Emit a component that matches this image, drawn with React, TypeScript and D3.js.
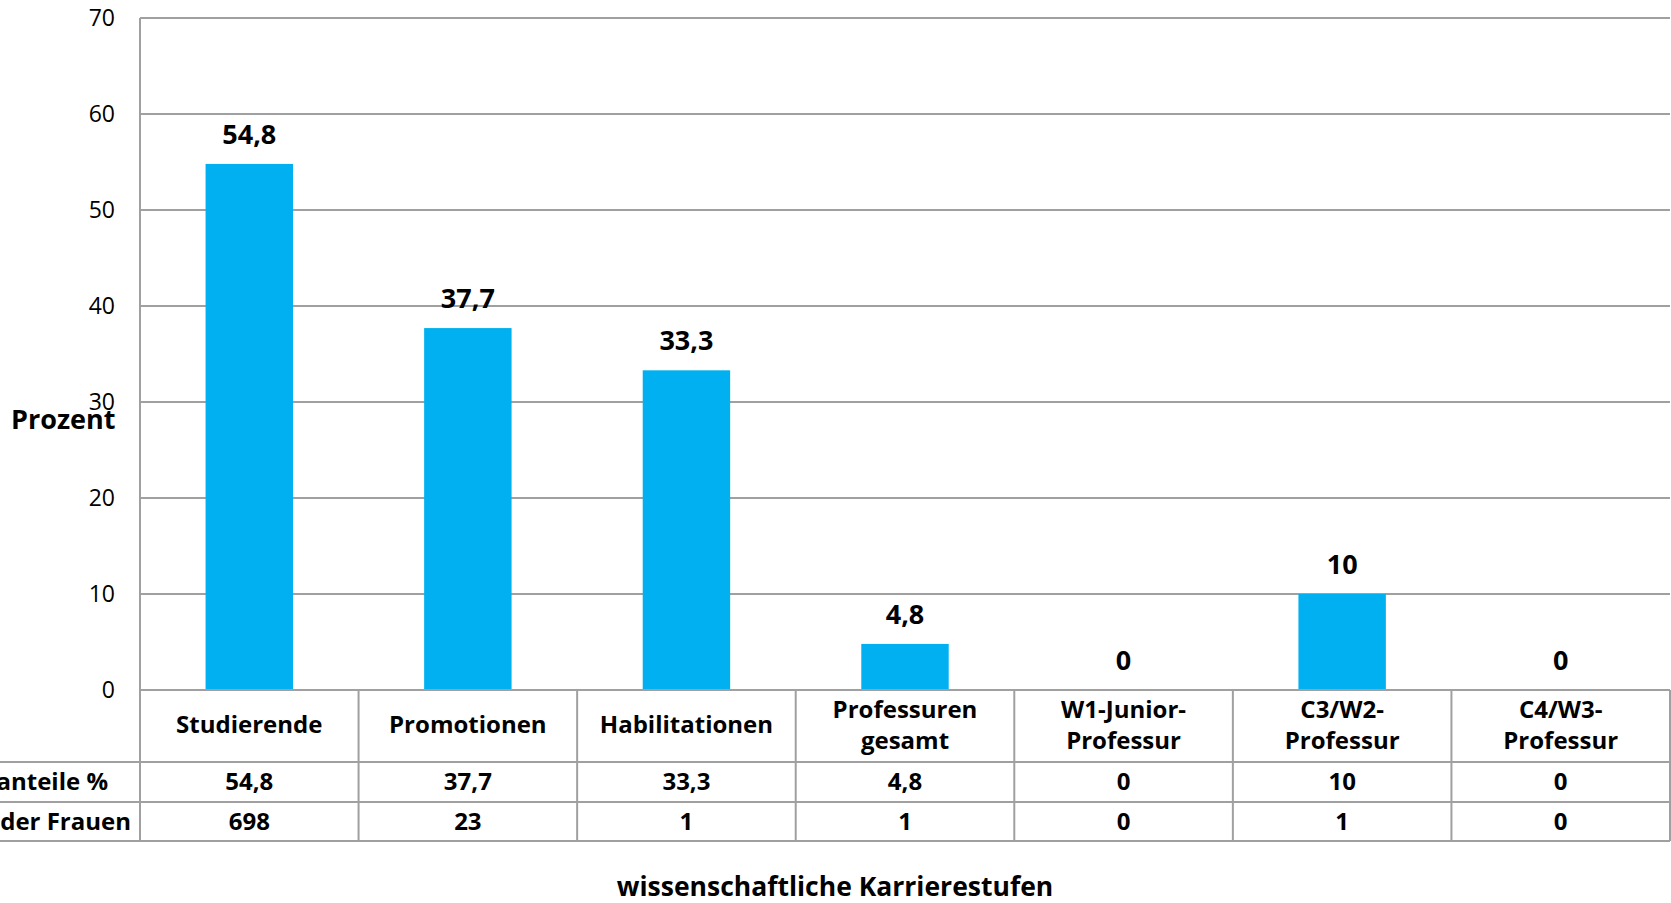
import React from "react";
import * as d3 from "d3";

const categories = [
  "Studierende",
  "Promotionen",
  "Habilitationen",
  "Professuren\ngesamt",
  "W1-Junior-\nProfessur",
  "C3/W2-\nProfessur",
  "C4/W3-\nProfessur",
];
const frauenanteile = [54.8, 37.7, 33.3, 4.8, 0, 10, 0];
const anzahlFrauen = [698, 23, 1, 1, 0, 1, 0];
const yTicks = [0, 10, 20, 30, 40, 50, 60, 70];
const rowLabels = ["Frauenanteile %", "Anzahl der Frauen"];

const W = 1671;
const H = 903;
const FONT = "'Open Sans', 'Noto Sans', sans-serif";
const fmt = (v: number) => String(v).replace(".", ",");

export default function App() {
  const left = 140;
  const right = 1670;
  const top = 18;
  const bottom = 690;
  const y = d3.scaleLinear().domain([0, 70]).range([bottom, top]);
  const x = d3.scaleBand<string>().domain(categories).range([left, right]).padding(0);
  const bw = x.bandwidth();
  const row1Bottom = 762;
  const row2Bottom = 802;
  const row3Bottom = 841;
  const grid = "#a0a0a0";

  return (
    <svg
      width={W}
      height={H}
      style={{ position: "absolute", left: 0, top: 0, background: "#fff" }}
      fontFamily={FONT}
    >
      <rect x={0} y={0} width={W} height={H} fill="#fff" />
      {/* gridlines */}
      {yTicks.map((t) => (
        <line key={t} x1={left} x2={right} y1={y(t)} y2={y(t)} stroke={grid} strokeWidth={2} />
      ))}
      {/* tick labels */}
      {yTicks.map((t) => (
        <text key={"t" + t} x={115} y={y(t)} dy="0.36em" textAnchor="end" fontSize={23} fill="#000">
          {t}
        </text>
      ))}
      {/* bars */}
      {categories.map((c, i) => (
        <rect
          key={"b" + i}
          x={(x(c) as number) + bw * 0.3}
          width={bw * 0.4}
          y={y(frauenanteile[i])}
          height={y(0) - y(frauenanteile[i])}
          fill="#00B0F0"
        />
      ))}
      {/* value labels */}
      {categories.map((c, i) => (
        <text
          key={"v" + i}
          x={(x(c) as number) + bw / 2}
          y={y(frauenanteile[i]) - 20}
          textAnchor="middle"
          fontSize={27}
          fontWeight="bold"
          fill="#000"
        >
          {fmt(frauenanteile[i])}
        </text>
      ))}
      {/* axis vertical line */}
      <line x1={left} x2={left} y1={top} y2={row3Bottom} stroke={grid} strokeWidth={2} />
      {/* table horizontal lines */}
      <line x1={left} x2={right} y1={bottom} y2={bottom} stroke={grid} strokeWidth={2} />
      <line x1={0} x2={right} y1={row1Bottom} y2={row1Bottom} stroke={grid} strokeWidth={2} />
      <line x1={0} x2={right} y1={row2Bottom} y2={row2Bottom} stroke={grid} strokeWidth={2} />
      <line x1={0} x2={right} y1={row3Bottom} y2={row3Bottom} stroke={grid} strokeWidth={2} />
      {/* table vertical lines */}
      {categories.map((c, i) => (
        <line
          key={"vl" + i}
          x1={(x(c) as number) + bw}
          x2={(x(c) as number) + bw}
          y1={bottom}
          y2={row3Bottom}
          stroke={grid}
          strokeWidth={2}
        />
      ))}
      {/* category labels */}
      {categories.map((c, i) => {
        const lines = c.split("\n");
        const cx = (x(c) as number) + bw / 2;
        const baselines = lines.length === 1 ? [733] : [718, 749];
        return (
          <text key={"c" + i} textAnchor="middle" fontSize={24} fontWeight="bold" fill="#000">
            {lines.map((l, j) => (
              <tspan key={j} x={cx} y={baselines[j]}>
                {l}
              </tspan>
            ))}
          </text>
        );
      })}
      {/* table values */}
      {categories.map((c, i) => (
        <text
          key={"r1" + i}
          x={(x(c) as number) + bw / 2}
          y={790}
          textAnchor="middle"
          fontSize={24}
          fontWeight="bold"
          fill="#000"
        >
          {fmt(frauenanteile[i])}
        </text>
      ))}
      {categories.map((c, i) => (
        <text
          key={"r2" + i}
          x={(x(c) as number) + bw / 2}
          y={830}
          textAnchor="middle"
          fontSize={24}
          fontWeight="bold"
          fill="#000"
        >
          {anzahlFrauen[i]}
        </text>
      ))}
      {/* row labels */}
      <text x={108} y={790} textAnchor="end" fontSize={24} fontWeight="bold" fill="#000">
        {rowLabels[0]}
      </text>
      <text x={131} y={830} textAnchor="end" fontSize={24} fontWeight="bold" fill="#000">
        {rowLabels[1]}
      </text>
      {/* axis titles */}
      <text x={11} y={429} fontSize={27} fontWeight="bold" fill="#000">
        Prozent
      </text>
      <text x={835} y={896} textAnchor="middle" fontSize={26.5} fontWeight="bold" fill="#000">
        wissenschaftliche Karrierestufen
      </text>
    </svg>
  );
}
